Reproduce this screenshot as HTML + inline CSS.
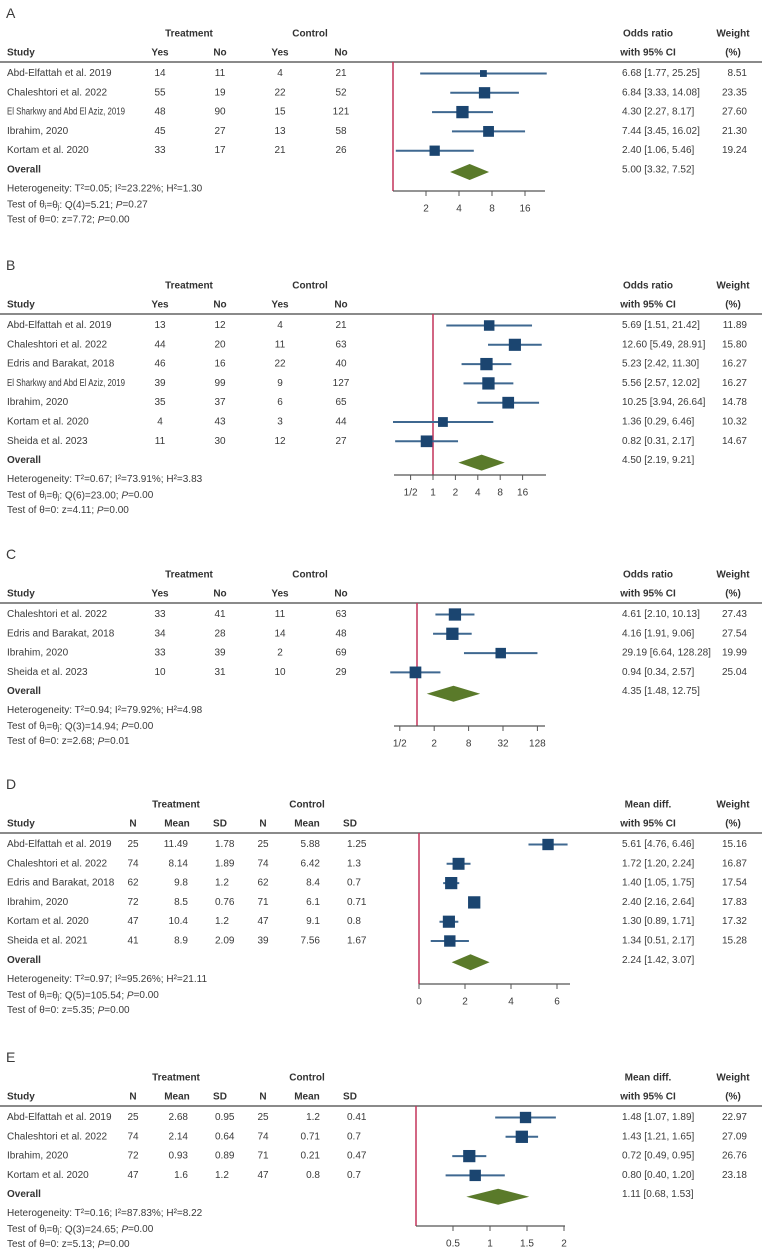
<!DOCTYPE html>
<html><head><meta charset="utf-8"><style>
html,body{margin:0;padding:0;background:#fff}
svg{display:block;font-family:"Liberation Sans",sans-serif}
text{fill:#3a3a3a;font-size:10px}
.b{font-weight:bold;fill:#333}
</style></head><body>
<svg id="fig" width="762" height="1252" viewBox="0 0 762 1252" xmlns="http://www.w3.org/2000/svg"></svg>
<script>
// ---- Panel A data ----
const aStudies=["Abd-Elfattah et al. 2019","Chaleshtori et al. 2022","El Sharkwy and Abd El Aziz, 2019","Ibrahim, 2020","Kortam et al. 2020"];
const aCol1=["14","55","48","45","33"];
const aCol2=["11","19","90","27","17"];
const aCol3=["4","22","15","13","21"];
const aCol4=["21","52","121","58","26"];
const aEst=[6.68,6.84,4.30,7.44,2.40];
const aLo=[1.77,3.33,2.27,3.45,1.06];
const aHi=[25.25,14.08,8.17,16.02,5.46];
const aWeight=[8.51,23.35,27.60,21.30,19.24];
const aOverall=[5.00,3.32,7.52];
const aTicks=[2,4,8,16];
const aTickLabels=["2","4","8","16"];
const aStats=["Heterogeneity: T²=0.05; I²=23.22%; H²=1.30","Q(4)=5.21; ","P=0.27","z=7.72; ","P=0.00"];
// ---- Panel B data ----
const bStudies=["Abd-Elfattah et al. 2019","Chaleshtori et al. 2022","Edris and Barakat, 2018","El Sharkwy and Abd El Aziz, 2019","Ibrahim, 2020","Kortam et al. 2020","Sheida et al. 2023"];
const bCol1=["13","44","46","39","35","4","11"];
const bCol2=["12","20","16","99","37","43","30"];
const bCol3=["4","11","22","9","6","3","12"];
const bCol4=["21","63","40","127","65","44","27"];
const bEst=[5.69,12.60,5.23,5.56,10.25,1.36,0.82];
const bLo=[1.51,5.49,2.42,2.57,3.94,0.29,0.31];
const bHi=[21.42,28.91,11.30,12.02,26.64,6.46,2.17];
const bWeight=[11.89,15.80,16.27,16.27,14.78,10.32,14.67];
const bOverall=[4.50,2.19,9.21];
const bTicks=[0.5,1,2,4,8,16];
const bTickLabels=["1/2","1","2","4","8","16"];
const bStats=["Heterogeneity: T²=0.67; I²=73.91%; H²=3.83","Q(6)=23.00; ","P=0.00","z=4.11; ","P=0.00"];
// ---- Panel C data ----
const cStudies=["Chaleshtori et al. 2022","Edris and Barakat, 2018","Ibrahim, 2020","Sheida et al. 2023"];
const cCol1=["33","34","33","10"];
const cCol2=["41","28","39","31"];
const cCol3=["11","14","2","10"];
const cCol4=["63","48","69","29"];
const cEst=[4.61,4.16,29.19,0.94];
const cLo=[2.10,1.91,6.64,0.34];
const cHi=[10.13,9.06,128.28,2.57];
const cWeight=[27.43,27.54,19.99,25.04];
const cOverall=[4.35,1.48,12.75];
const cTicks=[0.5,2,8,32,128];
const cTickLabels=["1/2","2","8","32","128"];
const cStats=["Heterogeneity: T²=0.94; I²=79.92%; H²=4.98","Q(3)=14.94; ","P=0.00","z=2.68; ","P=0.01"];
// ---- Panel D data ----
const dStudies=["Abd-Elfattah et al. 2019","Chaleshtori et al. 2022","Edris and Barakat, 2018","Ibrahim, 2020","Kortam et al. 2020","Sheida et al. 2021"];
const dN1=["25","74","62","72","47","41"];
const dMean1=["11.49","8.14","9.8","8.5","10.4","8.9"];
const dSD1=["1.78","1.89","1.2","0.76","1.2","2.09"];
const dN2=["25","74","62","71","47","39"];
const dMean2=["5.88","6.42","8.4","6.1","9.1","7.56"];
const dSD2=["1.25","1.3","0.7","0.71","0.8","1.67"];
const dEst=[5.61,1.72,1.40,2.40,1.30,1.34];
const dLo=[4.76,1.20,1.05,2.16,0.89,0.51];
const dHi=[6.46,2.24,1.75,2.64,1.71,2.17];
const dWeight=[15.16,16.87,17.54,17.83,17.32,15.28];
const dOverall=[2.24,1.42,3.07];
const dTicks=[0,2,4,6];
const dTickLabels=["0","2","4","6"];
const dStats=["Heterogeneity: T²=0.97; I²=95.26%; H²=21.11","Q(5)=105.54; ","P=0.00","z=5.35; ","P=0.00"];
// ---- Panel E data ----
const eStudies=["Abd-Elfattah et al. 2019","Chaleshtori et al. 2022","Ibrahim, 2020","Kortam et al. 2020"];
const eN1=["25","74","72","47"];
const eMean1=["2.68","2.14","0.93","1.6"];
const eSD1=["0.95","0.64","0.89","1.2"];
const eN2=["25","74","71","47"];
const eMean2=["1.2","0.71","0.21","0.8"];
const eSD2=["0.41","0.7","0.47","0.7"];
const eEst=[1.48,1.43,0.72,0.80];
const eLo=[1.07,1.21,0.49,0.40];
const eHi=[1.89,1.65,0.95,1.20];
const eWeight=[22.97,27.09,26.76,23.18];
const eOverall=[1.11,0.68,1.53];
const eTicks=[0.5,1,1.5,2];
const eTickLabels=["0.5","1","1.5","2"];
const eStats=["Heterogeneity: T²=0.16; I²=87.83%; H²=8.22","Q(3)=24.65; ","P=0.00","z=5.13; ","P=0.00"];

const NS="http://www.w3.org/2000/svg";
const svg=document.getElementById('fig');
function mk(tag,attrs,parent){const e=document.createElementNS(NS,tag);for(const k in attrs)e.setAttribute(k,attrs[k]);(parent||svg).appendChild(e);return e;}
function txt(s,x,y,anchor,cls,parent){const t=mk('text',{x:x,y:y,'text-anchor':anchor||'start','dominant-baseline':'central'},parent);if(cls)t.setAttribute('class',cls);t.textContent=s;return t;}
function fmt(v){return v.toFixed(2);}

function panel(cfg){
  const g=mk('g',{});
  
  
  const R=cfg.rule;
  const lab=txt(cfg.letter,6,R-49,'start',null,g);lab.style.fontSize='14px';
  
  
  const h1=R-28,h2=R-9;
  txt('Treatment',cfg.grpX[0],h1,'middle','b',g);
  txt('Control',cfg.grpX[1],h1,'middle','b',g);
  txt('Study',7,h2,'start','b',g);
  cfg.cols.forEach(c=>txt(c.h,c.hx,h2,'middle','b',g));
  txt(cfg.effName,648,h1,'middle','b',g);
  txt('with 95% CI',648,h2,'middle','b',g);
  txt('Weight',733,h1,'middle','b',g);
  txt('(%)',733,h2,'middle','b',g);
  const rl=mk('line',{x1:0,x2:762,y1:R,y2:R,stroke:'#444','stroke-width':1.2},g);
  
  
  const sc=cfg.scale;
  const nRows=cfg.studies.length;
  const rowY=i=>R+11.5+i*19.3;
  const yOv=rowY(nRows);
  const nl=mk('line',{x1:cfg.nullX,x2:cfg.nullX,y1:R,y2:cfg.axisY,stroke:'#c4345a','stroke-width':1.5},g);
  
  
  const wmax=Math.max(...cfg.weight);
  for(let i=0;i<nRows;i++){
    const y=rowY(i);
    const row=mk('g',{},g);
    
    
    const nm=txt(cfg.studies[i],7,y,'start',null,row);
    if(nm.getComputedTextLength()>118){nm.setAttribute('textLength',118);nm.setAttribute('lengthAdjust','spacingAndGlyphs');}
    cfg.cols.forEach(c=>txt(c.v[i],c.x,y,c.a,null,row));
    txt(fmt(cfg.est[i])+' ['+fmt(cfg.lo[i])+', '+fmt(cfg.hi[i])+']',622,y,'start',null,row);
    txt(fmt(cfg.weight[i]),747,y,'end',null,row);
    const ci=mk('line',{x1:sc(cfg.lo[i]),x2:sc(cfg.hi[i]),y1:y,y2:y,stroke:'#3f6890','stroke-width':2},row);
    
    
    const s=12.3*Math.sqrt(cfg.weight[i]/wmax);
    const sq=mk('rect',{x:sc(cfg.est[i])-s/2,y:y-s/2,width:s,height:s,fill:'#1b4570'},row);
    
    
  }
  txt('Overall',7,yOv,'start','b',g);
  txt(fmt(cfg.overall[0])+' ['+fmt(cfg.overall[1])+', '+fmt(cfg.overall[2])+']',622,yOv,'start',null,g);
  const dy=yOv+2;
  const dm=mk('polygon',{points:[sc(cfg.overall[1])+','+dy,sc(cfg.overall[0])+','+(dy-8),sc(cfg.overall[2])+','+dy,sc(cfg.overall[0])+','+(dy+8)].join(' '),fill:'#5a7a2a'},g);
  
  
  const st=cfg.stats;
  const t1=txt('',7,yOv+19,'start',null,g);t1.textContent=st[0];
  const t2=mk('text',{x:7,y:yOv+35,'dominant-baseline':'central'},g);
  t2.innerHTML='Test of θ<tspan font-size="7" dy="2">i</tspan><tspan dy="-2">=θ</tspan><tspan font-size="7" dy="2">j</tspan><tspan dy="-2">: '+st[1]+'</tspan><tspan font-style="italic">P</tspan>='+st[2].slice(2);
  const t3=mk('text',{x:7,y:yOv+50,'dominant-baseline':'central'},g);
  t3.innerHTML='Test of θ=0: '+st[3]+'<tspan font-style="italic">P</tspan>='+st[4].slice(2);
  const ax=mk('g',{},g);
  
  
  mk('line',{x1:cfg.axisFrom,x2:cfg.axisTo,y1:cfg.axisY,y2:cfg.axisY,stroke:'#555','stroke-width':1.2},ax);
  cfg.ticks.forEach((t,k)=>{const x=sc(t);
    mk('line',{x1:x,x2:x,y1:cfg.axisY,y2:cfg.axisY+5,stroke:'#555','stroke-width':1},ax);
    const tl=txt(cfg.tickLabels[k],x,cfg.axisY+18,'middle',null,ax);
    
    
  });
}
const l2=Math.log2;
function yesNoCols(c1,c2,c3,c4){return [{h:'Yes',hx:160,v:c1,x:160,a:'middle'},{h:'No',hx:220,v:c2,x:220,a:'middle'},{h:'Yes',hx:280,v:c3,x:280,a:'middle'},{h:'No',hx:341,v:c4,x:341,a:'middle'}];}
function mdCols(n1,m1,s1,n2,m2,s2){return [{h:'N',hx:133,v:n1,x:133,a:'middle'},{h:'Mean',hx:177,v:m1,x:188,a:'end'},{h:'SD',hx:220,v:s1,x:215,a:'start'},{h:'N',hx:263,v:n2,x:263,a:'middle'},{h:'Mean',hx:307,v:m2,x:320,a:'end'},{h:'SD',hx:350,v:s2,x:347,a:'start'}];}

panel({letter:'A',rule:62,grpX:[189,310],cols:yesNoCols(aCol1,aCol2,aCol3,aCol4),effName:'Odds ratio',studies:aStudies,est:aEst,lo:aLo,hi:aHi,weight:aWeight,overall:aOverall,ticks:aTicks,tickLabels:aTickLabels,stats:aStats,scale:v=>393+33*l2(v),nullX:393,axisY:191,axisFrom:393,axisTo:545});
panel({letter:'B',rule:314,grpX:[189,310],cols:yesNoCols(bCol1,bCol2,bCol3,bCol4),effName:'Odds ratio',studies:bStudies,est:bEst,lo:bLo,hi:bHi,weight:bWeight,overall:bOverall,ticks:bTicks,tickLabels:bTickLabels,stats:bStats,scale:v=>433+22.4*l2(v),nullX:433,axisY:475,axisFrom:394,axisTo:546});
panel({letter:'C',rule:603,grpX:[189,310],cols:yesNoCols(cCol1,cCol2,cCol3,cCol4),effName:'Odds ratio',studies:cStudies,est:cEst,lo:cLo,hi:cHi,weight:cWeight,overall:cOverall,ticks:cTicks,tickLabels:cTickLabels,stats:cStats,scale:v=>417+17.2*l2(v),nullX:417,axisY:726,axisFrom:394,axisTo:545});
panel({letter:'D',rule:833,grpX:[176,307],cols:mdCols(dN1,dMean1,dSD1,dN2,dMean2,dSD2),effName:'Mean diff.',studies:dStudies,est:dEst,lo:dLo,hi:dHi,weight:dWeight,overall:dOverall,ticks:dTicks,tickLabels:dTickLabels,stats:dStats,scale:v=>419+23*v,nullX:419,axisY:984,axisFrom:419,axisTo:570});
panel({letter:'E',rule:1106,grpX:[176,307],cols:mdCols(eN1,eMean1,eSD1,eN2,eMean2,eSD2),effName:'Mean diff.',studies:eStudies,est:eEst,lo:eLo,hi:eHi,weight:eWeight,overall:eOverall,ticks:eTicks,tickLabels:eTickLabels,stats:eStats,scale:v=>416+74*v,nullX:416,axisY:1226,axisFrom:416,axisTo:565});
</script>
</body></html>
